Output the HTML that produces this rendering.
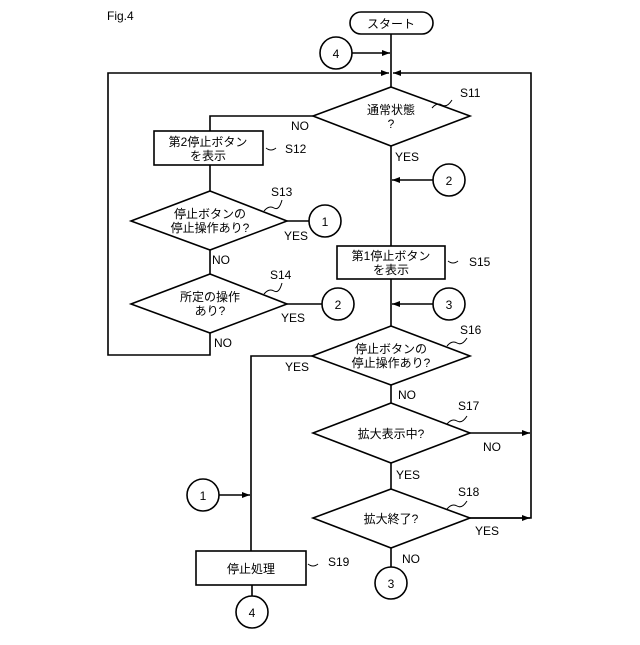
<!DOCTYPE html>
<html><head><meta charset="utf-8"><style>
html,body{margin:0;padding:0;background:#fff;}
svg text{font-family:"Liberation Sans","Noto Sans CJK JP",sans-serif;fill:#000;}
</style></head><body>
<svg width="640" height="640" viewBox="0 0 640 640" xmlns="http://www.w3.org/2000/svg">
<defs><marker id="a" markerWidth="8" markerHeight="6" refX="8" refY="3" orient="auto" markerUnits="userSpaceOnUse"><path d="M0,0 L8,3 L0,6 Z" fill="#000"/></marker></defs>
<g stroke="#000" stroke-width="1.6" fill="none">
<rect x="350" y="12" width="83" height="22" rx="11" fill="#fff"/>
<line x1="391" y1="34" x2="391" y2="87"/>
<circle cx="336" cy="53" r="16"/>
<line x1="352" y1="53" x2="390" y2="53" marker-end="url(#a)"/>
<polyline points="210,333 210,355 108,355 108,73 389,73" marker-end="url(#a)"/>
<polyline points="470,518 531,518 531,73 393,73" marker-end="url(#a)"/>
<polygon points="391,87 470,116 391,146 313,116"/>
<polyline points="313,116 210,116 210,131"/>
<rect x="154" y="131" width="109" height="34"/>
<line x1="210" y1="165" x2="210" y2="191"/>
<polygon points="210,191 287,221 210,250 131,221"/>
<line x1="287" y1="221" x2="309" y2="221"/>
<circle cx="325" cy="221" r="16"/>
<line x1="210" y1="250" x2="210" y2="274"/>
<polygon points="210,274 287,304 210,333 131,304"/>
<line x1="287" y1="304" x2="322" y2="304"/>
<circle cx="338" cy="304" r="16"/>
<line x1="391" y1="146" x2="391" y2="246"/>
<circle cx="449" cy="180" r="16"/>
<line x1="433" y1="180" x2="392" y2="180" marker-end="url(#a)"/>
<rect x="337" y="246" width="108" height="33"/>
<line x1="391" y1="279" x2="391" y2="326"/>
<circle cx="449" cy="304" r="16"/>
<line x1="433" y1="304" x2="392" y2="304" marker-end="url(#a)"/>
<polygon points="391,326 470,356 391,385 312,356"/>
<polyline points="312,356 251,356 251,551"/>
<line x1="391" y1="385" x2="391" y2="403"/>
<polygon points="391,403 470,433 391,463 313,433"/>
<line x1="470" y1="433" x2="530" y2="433" marker-end="url(#a)"/>
<line x1="391" y1="463" x2="391" y2="489"/>
<polygon points="391,489 470,518 391,548 313,518"/>
<line x1="470" y1="518" x2="530" y2="518" marker-end="url(#a)"/>
<line x1="391" y1="548" x2="391" y2="567"/>
<circle cx="391" cy="583" r="16"/>
<circle cx="203" cy="495" r="16"/>
<line x1="219" y1="495" x2="250" y2="495" marker-end="url(#a)"/>
<rect x="196" y="551" width="110" height="34"/>
<line x1="252" y1="585" x2="252" y2="596"/>
<circle cx="252" cy="612" r="16"/>
<g stroke-width="1">
<path d="M432,108 q5,-6 10,-3 t10,-5"/>
<path d="M266,148 q5,4 10,0"/>
<path d="M264,211 q5,-6 10,-3 t8,-8"/>
<path d="M264,294 q5,-6 10,-3 t8,-8"/>
<path d="M448,261 q5,4 10,0"/>
<path d="M447,346 q5,-6 10,-3 t10,-5"/>
<path d="M447,424 q5,-6 10,-3 t10,-5"/>
<path d="M447,509 q5,-6 10,-3 t10,-5"/>
<path d="M308,564 q5,4 10,0"/>
</g>
</g>
<g font-size="12">
<text x="107" y="20">Fig.4</text>
<text x="391" y="28" text-anchor="middle">スタート</text>
<text x="336" y="58" text-anchor="middle">4</text>
<text x="391" y="114" text-anchor="middle">通常状態</text>
<text x="391" y="128" text-anchor="middle">?</text>
<text x="460" y="97">S11</text>
<text x="291" y="130">NO</text>
<text x="208" y="146" text-anchor="middle">第2停止ボタン</text>
<text x="208" y="160" text-anchor="middle">を表示</text>
<text x="285" y="153">S12</text>
<text x="210" y="218" text-anchor="middle">停止ボタンの</text>
<text x="210" y="232" text-anchor="middle">停止操作あり?</text>
<text x="271" y="196">S13</text>
<text x="284" y="240">YES</text>
<text x="325" y="226" text-anchor="middle">1</text>
<text x="212" y="264">NO</text>
<text x="210" y="301" text-anchor="middle">所定の操作</text>
<text x="210" y="315" text-anchor="middle">あり?</text>
<text x="270" y="279">S14</text>
<text x="281" y="322">YES</text>
<text x="338" y="309" text-anchor="middle">2</text>
<text x="214" y="347">NO</text>
<text x="395" y="161">YES</text>
<text x="449" y="185" text-anchor="middle">2</text>
<text x="391" y="260" text-anchor="middle">第1停止ボタン</text>
<text x="391" y="274" text-anchor="middle">を表示</text>
<text x="469" y="266">S15</text>
<text x="449" y="309" text-anchor="middle">3</text>
<text x="460" y="334">S16</text>
<text x="391" y="353" text-anchor="middle">停止ボタンの</text>
<text x="391" y="367" text-anchor="middle">停止操作あり?</text>
<text x="285" y="371">YES</text>
<text x="398" y="399">NO</text>
<text x="458" y="410">S17</text>
<text x="391" y="438" text-anchor="middle">拡大表示中?</text>
<text x="483" y="451">NO</text>
<text x="396" y="479">YES</text>
<text x="458" y="496">S18</text>
<text x="391" y="523" text-anchor="middle">拡大終了?</text>
<text x="475" y="535">YES</text>
<text x="402" y="563">NO</text>
<text x="391" y="588" text-anchor="middle">3</text>
<text x="203" y="500" text-anchor="middle">1</text>
<text x="251" y="573" text-anchor="middle">停止処理</text>
<text x="328" y="566">S19</text>
<text x="252" y="617" text-anchor="middle">4</text>
</g>
</svg>
</body></html>
